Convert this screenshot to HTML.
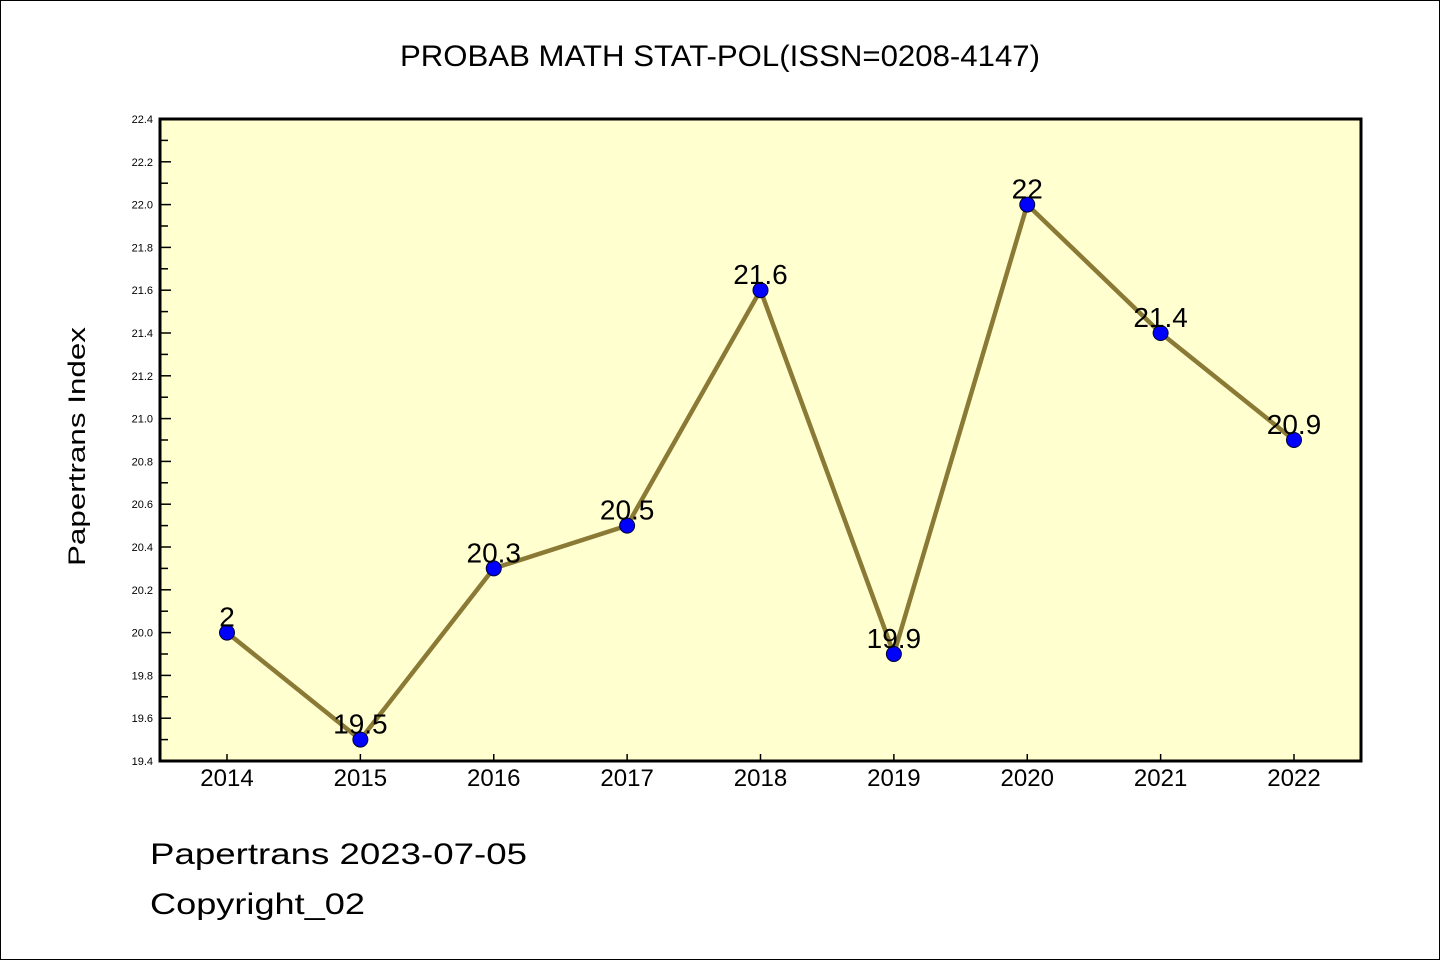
<!DOCTYPE html>
<html><head><meta charset="utf-8"><style>
body{margin:0;background:#fff;}
svg{display:block;font-family:"Liberation Sans",sans-serif;}
</style></head><body>
<svg id="chart" width="1440" height="960" viewBox="0 0 1440 960" xmlns="http://www.w3.org/2000/svg">
<rect x="0.5" y="0.5" width="1439" height="959" fill="#fff" stroke="#000" stroke-width="1"/>
<text x="400" y="66" font-size="30" textLength="640" lengthAdjust="spacingAndGlyphs">PROBAB MATH STAT-POL(ISSN=0208-4147)</text>
<rect x="160" y="119" width="1201" height="642" fill="#ffffd0"/>
<g id="yticks"></g>
<g id="xticks"></g>
<g id="series"></g>
<rect x="160" y="119" width="1201" height="642" fill="none" stroke="#000" stroke-width="3"/>
<text transform="translate(85,566) rotate(-90)" font-size="24" textLength="239" lengthAdjust="spacingAndGlyphs">Papertrans Index</text>
<text x="150" y="864" font-size="30" textLength="377" lengthAdjust="spacingAndGlyphs">Papertrans 2023-07-05</text>
<text x="150" y="914" font-size="30" textLength="215" lengthAdjust="spacingAndGlyphs">Copyright_02</text>
</svg>
<script>
const categories = ["2014","2015","2016","2017","2018","2019","2020","2021","2022"];
const values = [20, 19.5, 20.3, 20.5, 21.6, 19.9, 22, 21.4, 20.9];
const valueLabels = ["2","19.5","20.3","20.5","21.6","19.9","22","21.4","20.9"];
const yTickLabels = ["19.4","19.6","19.8","20.0","20.2","20.4","20.6","20.8","21.0","21.2","21.4","21.6","21.8","22.0","22.2","22.4"];
(function(){
const NS="http://www.w3.org/2000/svg";
const yMin=19.4,yMax=22.4,pTop=119,pBot=761;
const y=v=>pBot-(v-yMin)/(yMax-yMin)*(pBot-pTop);
const x=i=>227+i*(1294-227)/(categories.length-1);
function mk(t,a,p){const e=document.createElementNS(NS,t);for(const k in a)e.setAttribute(k,a[k]);p.appendChild(e);return e;}
const yt=document.getElementById('yticks');
yTickLabels.forEach((l,i)=>{
  const v=parseFloat(l),yy=y(v);
  const tk=mk('line',{x1:160,x2:171,y1:yy,y2:yy,stroke:'#000','stroke-width':1.5},yt);
  
  
  const t=mk('text',{x:153,y:yy+4,'font-size':11,'text-anchor':'end'},yt);
  t.textContent=l;
  
  
  if(i<yTickLabels.length-1){
    const ym=y(v+0.1);
    const mn=mk('line',{x1:160,x2:168,y1:ym,y2:ym,stroke:'#000','stroke-width':1.5},yt);
    
    
  }
});
const xt=document.getElementById('xticks');
categories.forEach((c,i)=>{
  const tk=mk('line',{x1:x(i),x2:x(i),y1:pBot-7,y2:pBot,stroke:'#000','stroke-width':1.5},xt);
  
  
  const t=mk('text',{x:x(i),y:786,'font-size':24,'text-anchor':'middle'},xt);
  t.textContent=c;
  
  
});
const s=document.getElementById('series');
const pl=mk('polyline',{points:values.map((v,i)=>x(i)+','+y(v)).join(' '),fill:'none',stroke:'#8b7a35','stroke-width':4.5,'stroke-linejoin':'round'},s);


values.forEach((v,i)=>{
  const c=mk('circle',{cx:x(i),cy:y(v),r:7.5,fill:'#0000ff',stroke:'#000033','stroke-width':1},s);
  
  
  const t=mk('text',{x:x(i),y:y(v)-6,'font-size':28,'text-anchor':'middle'},s);
  t.textContent=valueLabels[i];
  
  
});
})();
</script>
</body></html>
